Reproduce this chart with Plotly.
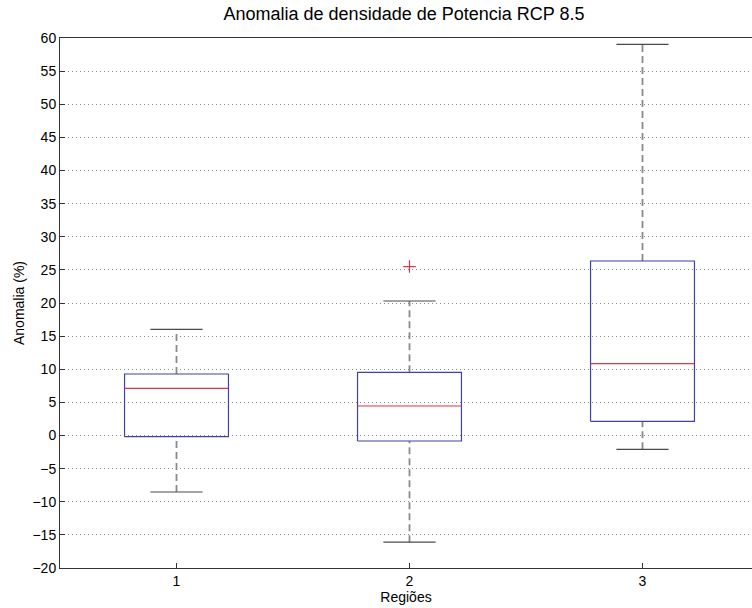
import plotly.graph_objects as go

categories = [1, 2, 3]
q1 = [-0.18, -0.83, 2.14]
median = [7.12, 4.45, 10.84]
q3 = [9.28, 9.53, 26.34]
lower_whisker = [-8.53, -16.1, -2.08]
upper_whisker = [16.03, 20.30, 59.05]
outlier_x = [2]
outlier_y = [25.5]
y_ticks = list(range(-20, 61, 5))

BOX_HALF = 0.223
CAP_HALF = 0.112
box_color = "#4040a8"
med_color = "#d8384a"
whisk_color = "#8a8a8a"
cap_color = "#4a4a4a"

fig = go.Figure()
for i, c in enumerate(categories):
    fig.add_trace(go.Scatter(x=[c, c], y=[q3[i], upper_whisker[i]], mode="lines",
                             line=dict(color=whisk_color, width=1.8, dash="7px,4px"), hoverinfo="skip"))
    fig.add_trace(go.Scatter(x=[c, c], y=[lower_whisker[i], q1[i]], mode="lines",
                             line=dict(color=whisk_color, width=1.8, dash="7px,4px"), hoverinfo="skip"))
    fig.add_trace(go.Scatter(x=[c - CAP_HALF, c + CAP_HALF], y=[upper_whisker[i]] * 2, mode="lines",
                             line=dict(color=cap_color, width=1.2), hoverinfo="skip"))
    fig.add_trace(go.Scatter(x=[c - CAP_HALF, c + CAP_HALF], y=[lower_whisker[i]] * 2, mode="lines",
                             line=dict(color=cap_color, width=1.2), hoverinfo="skip"))
    fig.add_trace(go.Scatter(x=[c - BOX_HALF, c + BOX_HALF, c + BOX_HALF, c - BOX_HALF, c - BOX_HALF],
                             y=[q1[i], q1[i], q3[i], q3[i], q1[i]], mode="lines",
                             line=dict(color=box_color, width=1.2), hoverinfo="skip"))
    fig.add_trace(go.Scatter(x=[c - BOX_HALF, c + BOX_HALF], y=[median[i]] * 2, mode="lines",
                             line=dict(color=med_color, width=1.2), hoverinfo="skip"))

fig.add_trace(go.Scatter(x=outlier_x, y=outlier_y, mode="markers",
                         marker=dict(symbol="cross-thin", size=9, line=dict(color=med_color, width=1.2)),
                         hoverinfo="skip"))

fig.update_layout(
    width=752, height=608,
    margin=dict(l=60, r=0, t=38, b=40),
    paper_bgcolor="white", plot_bgcolor="white",
    showlegend=False,
    font=dict(family="Liberation Sans, Arial, sans-serif", size=14, color="black"),
    title=dict(text="Anomalia de densidade de Potencia RCP 8.5", x=404 / 752, xanchor="center",
               y=1 - 14 / 608, yanchor="middle", font=dict(size=18, color="black")),
)
fig.update_xaxes(range=[0.5, 0.5 + 692 / 233], tickvals=categories, ticktext=[str(c) for c in categories],
                 showline=True, linecolor="#333", linewidth=1, mirror=True,
                 ticks="inside", ticklen=5, tickcolor="#333", showgrid=False, zeroline=False,
                 title=dict(text="Regiões", standoff=0, font=dict(size=14)))
fig.update_yaxes(range=[-20, 60], tickvals=y_ticks,
                 showline=True, linecolor="#333", linewidth=1, mirror=False,
                 ticks="inside", ticklen=5, tickcolor="#333",
                 showgrid=True, gridcolor="#888", griddash="1px,3px", gridwidth=1, zeroline=False,
                 title=dict(text="Anomalia (%)", standoff=4, font=dict(size=14)))

fig.write_html("out.html", config={"displayModeBar": False},
               post_script="document.body.style.margin='0';document.body.style.overflow='hidden';")
